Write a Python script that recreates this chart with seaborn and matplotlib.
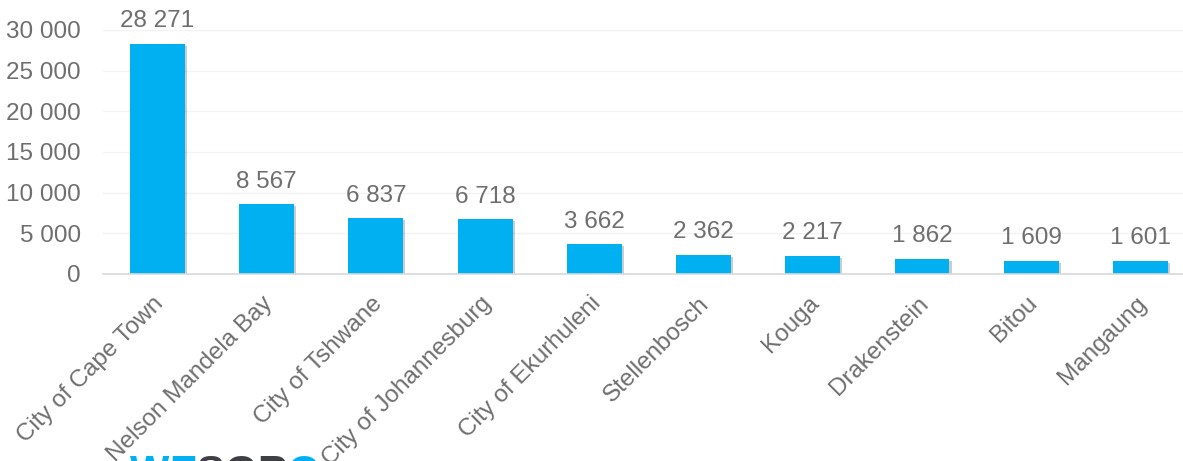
import matplotlib
matplotlib.use("Agg")
import matplotlib.pyplot as plt
import matplotlib.patheffects as pe
import matplotlib.transforms as mtransforms
import seaborn as sns
import pandas as pd

# Municipalities and their counts
municipalities = [
    "City of Cape Town", "Nelson Mandela Bay", "City of Tshwane",
    "City of Johannesburg", "City of Ekurhuleni", "Stellenbosch",
    "Kouga", "Drakenstein", "Bitou", "Mangaung",
]
counts = [28271, 8567, 6837, 6718, 3662, 2362, 2217, 1862, 1609, 1601]
y_ticks = [0, 5000, 10000, 15000, 20000, 25000, 30000]

BAR_BLUE = "#00B0F0"
TEXT_GREY = "#6E6E6E"
FS = 17.5

sns.set_theme(style="white")
plt.rcParams["font.family"] = ["Liberation Sans", "DejaVu Sans"]


def fmt(v):
    return f"{v:,}".replace(",", " ")


df = pd.DataFrame({"municipality": municipalities, "count": counts})

fig = plt.figure(figsize=(11.83, 4.61), dpi=100)
ax = fig.add_axes([102.9 / 1183, 187 / 461, (1195 - 102.9) / 1183, 244 / 461])

sns.barplot(data=df, x="municipality", y="count", color=BAR_BLUE,
            saturation=1, width=0.503, ax=ax, zorder=3)

shadow = [pe.SimplePatchShadow(offset=(1.5, -1.5), shadow_rgbFace="#000000", alpha=0.2),
          pe.Normal()]
for patch in ax.patches:
    patch.set_edgecolor("none")
    patch.set_path_effects(shadow)

ax.set_ylim(0, 30000)
ax.set_xlim(-0.5, len(municipalities) - 0.5)
ax.set_yticks(y_ticks)
ax.set_yticklabels([fmt(t) for t in y_ticks], fontsize=FS, color=TEXT_GREY)
ax.set_xticks(range(len(municipalities)))
ax.set_xticklabels(municipalities, rotation=45, ha="right", va="top",
                   rotation_mode="anchor", fontsize=FS, color=TEXT_GREY)
ax.tick_params(axis="both", length=0)
ax.tick_params(axis="y", pad=16)
ax.tick_params(axis="x", pad=6)
ax.set_xlabel("")
ax.set_ylabel("")

# nudge the slanted category labels down and to the left
shift = mtransforms.ScaledTranslation(-5 / 100, -10 / 100, fig.dpi_scale_trans)
for lbl in ax.get_xticklabels():
    lbl.set_transform(lbl.get_transform() + shift)

ax.yaxis.grid(True, color="#F2F2F2", linewidth=1)
ax.set_axisbelow(True)
for side in ["top", "right", "left"]:
    ax.spines[side].set_visible(False)
ax.spines["bottom"].set_color("#D9D9D9")
ax.spines["bottom"].set_linewidth(1.2)
ax.spines["bottom"].set_zorder(4)

for i, v in enumerate(counts):
    ax.annotate(fmt(v), xy=(i, v), xytext=(0, 12), textcoords="offset points",
                ha="center", va="baseline", fontsize=FS, color=TEXT_GREY,
                annotation_clip=False)

# Logo lettering along the bottom edge
logo_colors = [BAR_BLUE, BAR_BLUE, "#3F3F46", "#3F3F46", "#3F3F46", BAR_BLUE]
x = 130 / 1183
for letter, col in zip("WESGRO", logo_colors):
    t = fig.text(x, -24 / 461, letter, fontsize=30, fontweight="bold",
                 color=col, ha="left", va="baseline",
                 family=["Liberation Sans", "DejaVu Sans"])
    fig.canvas.draw()
    bb = t.get_window_extent()
    x += bb.width / 1183

fig.savefig("out.png", dpi=100)
